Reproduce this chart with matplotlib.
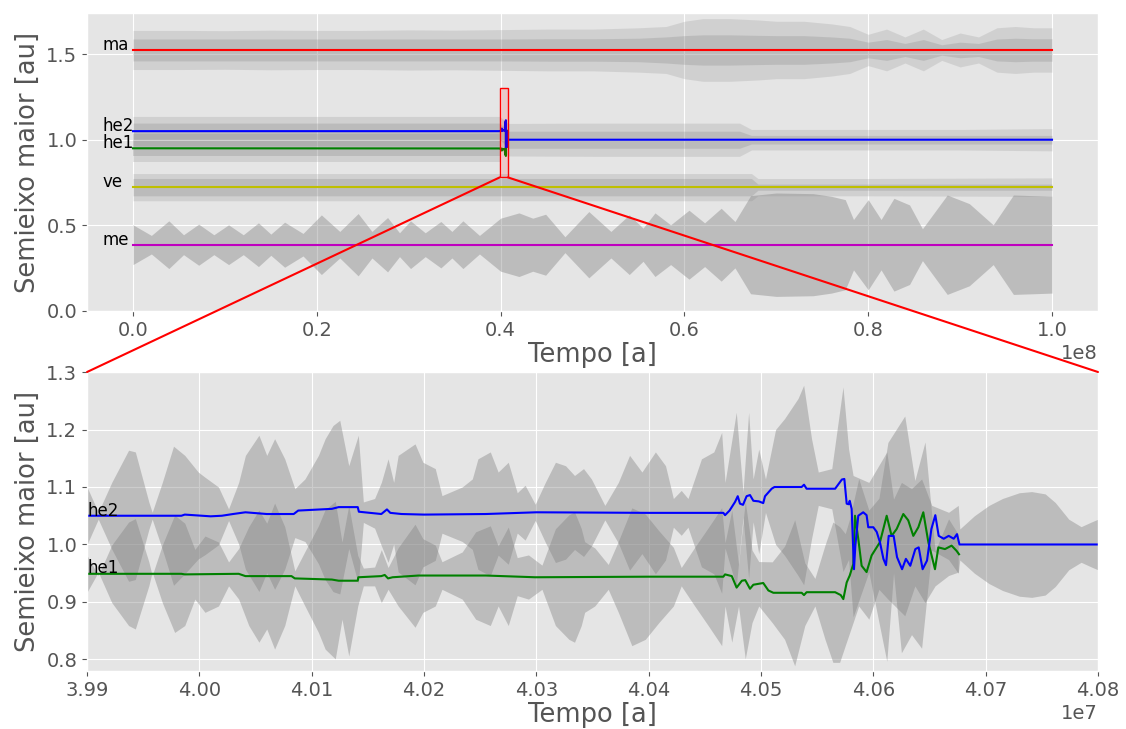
import numpy as np
import matplotlib
matplotlib.use("Agg")
import matplotlib.pyplot as plt
from matplotlib.patches import Rectangle, ConnectionPatch
from matplotlib.ticker import MultipleLocator

# ---------------- data: full run (time in units of 1e8 years) ----------------
span_t = [0.0, 1.0]

ma_a = 1.524
ma_t = [0, .05, .10, .15, .20, .25, .30, .35, .40, .45, .50, .55, .58, .60, .62, .65,
        .68, .70, .73, .76, .78, .80, .82, .84, .86, .88, .90, .92, .94, .96, .98, 1.0]
ma_eout = [.075, .075, .074, .076, .075, .075, .077, .076, .078, .080, .080, .085, .090, .110, .120, .120,
           .115, .110, .110, .100, .090, .060, .080, .050, .080, .040, .065, .050, .085, .090, .085, .085]
ma_ein = [.042, .042, .042, .042, .042, .042, .042, .042, .042, .043, .043, .045, .050, .055, .058, .058,
          .056, .055, .055, .050, .045, .030, .040, .025, .040, .020, .030, .025, .042, .045, .043, .043]

he2_env_t = [0, .10, .20, .30, .399, .408, .50, .60, .66, .673, .70, .80, .90, 1.0]
he2_env_a = [1.05, 1.05, 1.05, 1.05, 1.05, 1.0, 1.0, 1.0, 1.0, 1.0, 1.0, 1.0, 1.0, 1.0]
he2_eout = [.082, .082, .082, .082, .082, .095, .097, .097, .097, .060, .060, .060, .060, .065]
he2_ein = [.045, .045, .045, .045, .045, .050, .050, .050, .050, .025, .025, .025, .025, .025]

he1_env_t = [0, .10, .20, .30, .399]
he1_env_a = [0.95, 0.95, 0.95, 0.95, 0.95]
he1_eout = [.085, .085, .085, .085, .085]
he1_ein = [.045, .045, .045, .045, .045]

ve_a = 0.723
ve_t = [0, .20, .40, .60, .673, .68, .80, 1.0]
ve_eout = [.110, .110, .110, .110, .110, .070, .070, .075]
ve_ein = [.070, .070, .070, .070, .070, .025, .025, .025]

me_a = 0.387
me_t = [0, .020, .039, .055, .0715, .088, .104, .120, .1365, .150, .165, .185, .205, .225, .245,
        .260, .277, .290, .302, .318, .335, .347, .359, .377, .400, .420, .435, .449, .470, .496,
        .520, .540, .555, .568, .585, .605, .622, .640, .655, .672, .700, .740, .760, .775, .784,
        .800, .814, .828, .845, .859, .886, .910, .936, .958, .980, 1.0]
me_e = [0.30, 0.14, 0.36, 0.15, 0.31, 0.15, 0.30, 0.15, 0.33, 0.16, 0.34, 0.17, 0.45, 0.20, 0.47,
        0.20, 0.41, 0.18, 0.36, 0.18, 0.35, 0.20, 0.36, 0.14, 0.40, 0.48, 0.40, 0.46, 0.12, 0.50,
        0.20, 0.45, 0.25, 0.48, 0.30, 0.52, 0.33, 0.55, 0.35, 0.74, 0.78, 0.77, 0.73, 0.68, 0.38,
        0.68, 0.38, 0.70, 0.60, 0.24, 0.75, 0.62, 0.30, 0.75, 0.74, 0.73]

# ---------------- data: zoom window (time in units of 1e7 years) ----------------
he2_zt = [3.9900, 3.9984, 3.9987, 4.0010, 4.0020, 4.0030, 4.0041, 4.0060, 4.0084, 4.0088, 4.0118,
          4.0124, 4.0141, 4.0142, 4.0162, 4.0167, 4.0170, 4.0180, 4.0200, 4.0255, 4.0300, 4.0400,
          4.04665, 4.0468, 4.0472, 4.04769, 4.04793, 4.04813, 4.0484, 4.04872, 4.04902, 4.04932,
          4.0498, 4.0502, 4.05036, 4.05095, 4.0512, 4.05362, 4.05383, 4.05406, 4.0566, 4.0572,
          4.05742, 4.05763, 4.0578, 4.0579, 4.05807, 4.05828, 4.0584, 4.05866, 4.0591, 4.0594,
          4.05955, 4.0600, 4.0603, 4.06059, 4.0609, 4.06113, 4.06137, 4.06181, 4.06211, 4.06256,
          4.0629, 4.06329, 4.06374, 4.06404, 4.06439, 4.06478, 4.06517, 4.06552, 4.06582, 4.06627,
          4.06671, 4.06716, 4.06745, 4.06767, 4.0800]
he2_za = [1.050, 1.050, 1.052, 1.049, 1.050, 1.053, 1.056, 1.053, 1.053, 1.059, 1.062,
          1.065, 1.065, 1.057, 1.053, 1.061, 1.055, 1.053, 1.052, 1.053, 1.056, 1.055,
          1.055, 1.051, 1.059, 1.074, 1.084, 1.071, 1.069, 1.084, 1.086, 1.076,
          1.075, 1.072, 1.084, 1.097, 1.100, 1.100, 1.104, 1.097, 1.097, 1.113,
          1.114, 1.071, 1.070, 1.076, 1.062, 0.957, 0.998, 1.050, 1.056, 1.051,
          1.030, 1.030, 1.022, 1.004, 0.975, 0.964, 1.015, 1.015, 0.978, 0.957,
          0.975, 0.963, 0.992, 0.995, 0.957, 0.972, 1.027, 1.051, 1.015, 1.010,
          1.015, 1.010, 1.018, 1.000, 1.000]

he1_zt = [3.9900, 3.9984, 3.9987, 4.0035, 4.0041, 4.0082, 4.0085, 4.0118, 4.0124, 4.0141, 4.01415,
          4.0162, 4.0165, 4.0168, 4.0172, 4.0195, 4.0255, 4.0299, 4.0400, 4.04665, 4.0468, 4.0474,
          4.04783, 4.0483, 4.0486, 4.04902, 4.04932, 4.0502, 4.05066, 4.0511, 4.05362, 4.05383,
          4.05406, 4.0566, 4.0571, 4.05733, 4.05763, 4.0579, 4.05822, 4.05837, 4.05866, 4.05896,
          4.0594, 4.05985, 4.06059, 4.06119, 4.06163, 4.06208, 4.06267, 4.06311, 4.06356, 4.06401,
          4.06445, 4.0649, 4.06549, 4.06579, 4.06638, 4.06697, 4.06741, 4.06763]
he1_za = [0.949, 0.949, 0.948, 0.949, 0.945, 0.945, 0.941, 0.939, 0.937, 0.937, 0.943,
          0.945, 0.947, 0.941, 0.943, 0.946, 0.946, 0.943, 0.944, 0.944, 0.948, 0.945,
          0.925, 0.937, 0.938, 0.923, 0.930, 0.933, 0.920, 0.916, 0.916, 0.912,
          0.917, 0.917, 0.912, 0.905, 0.934, 0.946, 0.966, 1.050, 1.010, 0.963,
          0.952, 0.981, 1.004, 1.050, 1.015, 1.027, 1.053, 1.042, 1.015, 1.030,
          1.056, 1.004, 0.957, 0.995, 0.992, 0.998, 0.989, 0.983]

# outer edge of the grey region (he2 aphelion)
band_hi_t = [3.9900, 3.9910, 3.9922, 3.9937, 3.9943, 3.9955, 3.9958, 3.9967, 3.9977, 3.9987, 3.9999,
             4.0005, 4.0017, 4.0026, 4.0035, 4.0041, 4.0053, 4.0060, 4.0067, 4.0076, 4.0085, 4.0094,
             4.0106, 4.0112, 4.0119, 4.0125, 4.0133, 4.01415, 4.0146, 4.0156, 4.0162, 4.0168, 4.0173,
             4.0177, 4.0192, 4.0199, 4.0210, 4.0216, 4.0234, 4.0243, 4.0248, 4.0259, 4.0266, 4.0275,
             4.0283, 4.0290, 4.0299, 4.0308, 4.0317, 4.0326, 4.0334, 4.0342, 4.0349, 4.0361, 4.0373,
             4.0383, 4.0394, 4.0406, 4.0415, 4.0422, 4.0429, 4.0435, 4.0447, 4.0458, 4.0465, 4.0468,
             4.0478, 4.0484, 4.0489, 4.0493, 4.0498, 4.0504, 4.0513, 4.0521, 4.0533, 4.0538, 4.0545,
             4.0551, 4.0563, 4.0573, 4.0578, 4.0582, 4.0596, 4.0612, 4.0618, 4.0625, 4.0634, 4.0643,
             4.0652, 4.0667, 4.06756, 4.0677, 4.0690, 4.0703, 4.0715, 4.0730, 4.0741, 4.0753, 4.0762,
             4.0774, 4.0785, 4.0794, 4.0800]
band_hi = [1.100, 1.056, 1.108, 1.164, 1.161, 1.074, 1.056, 1.108, 1.171, 1.155, 1.126,
           1.117, 1.100, 1.062, 1.108, 1.155, 1.190, 1.155, 1.184, 1.149, 1.097, 1.114,
           1.155, 1.184, 1.207, 1.216, 1.137, 1.190, 1.074, 1.080, 1.108, 1.149, 1.108,
           1.155, 1.175, 1.143, 1.132, 1.085, 1.100, 1.114, 1.149, 1.161, 1.126, 1.143,
           1.090, 1.103, 1.070, 1.108, 1.143, 1.137, 1.120, 1.132, 1.114, 1.068, 1.108,
           1.155, 1.126, 1.161, 1.137, 1.080, 1.094, 1.080, 1.149, 1.161, 1.195, 1.108,
           1.230, 1.091, 1.230, 1.114, 1.166, 1.114, 1.200, 1.219, 1.254, 1.277, 1.184,
           1.126, 1.132, 1.274, 1.166, 1.120, 1.108, 1.161, 1.079, 1.108, 1.097, 1.114,
           1.068, 1.056, 1.068, 1.027, 1.050, 1.068, 1.080, 1.090, 1.092, 1.088, 1.073,
           1.044, 1.031, 1.039, 1.044]

# inner edge of the grey region (he1 perihelion)
band_lo_t = [3.9900, 3.9910, 3.9922, 3.9937, 3.9943, 3.9955, 3.9958, 3.9967, 3.9978, 3.9987, 3.9996,
             4.0005, 4.0017, 4.0026, 4.0035, 4.0044, 4.0053, 4.0060, 4.0067, 4.0076, 4.0085, 4.0094,
             4.0106, 4.0112, 4.0121, 4.0127, 4.0133, 4.0141, 4.0146, 4.0156, 4.0162, 4.0168, 4.0177,
             4.0192, 4.0199, 4.0210, 4.0216, 4.0234, 4.0246, 4.0259, 4.0266, 4.0275, 4.0283, 4.0293,
             4.0305, 4.0317, 4.0329, 4.0334, 4.0340, 4.0343, 4.0352, 4.0364, 4.0373, 4.0385, 4.0397,
             4.0409, 4.0422, 4.0429, 4.0441, 4.0453, 4.0465, 4.0468, 4.0474, 4.0480, 4.0486, 4.0492,
             4.0498, 4.0510, 4.0521, 4.0530, 4.0539, 4.0548, 4.0557, 4.0564, 4.0570, 4.0575, 4.0579,
             4.0587, 4.0596, 4.0605, 4.0613, 4.0628, 4.0637, 4.0646, 4.0655, 4.0667, 4.06756]
band_lo = [0.917, 0.952, 0.899, 0.859, 0.853, 0.928, 0.952, 0.899, 0.847, 0.859, 0.905,
           0.882, 0.893, 0.928, 0.905, 0.859, 0.830, 0.853, 0.818, 0.859, 0.928, 0.893,
           0.847, 0.818, 0.801, 0.870, 0.806, 0.893, 0.928, 0.928, 0.899, 0.922, 0.893,
           0.856, 0.882, 0.893, 0.922, 0.905, 0.870, 0.859, 0.893, 0.859, 0.911, 0.905,
           0.922, 0.859, 0.835, 0.830, 0.859, 0.882, 0.893, 0.922, 0.882, 0.824, 0.835,
           0.864, 0.893, 0.928, 0.893, 0.859, 0.824, 0.893, 0.830, 0.893, 0.801, 0.864,
           0.893, 0.864, 0.835, 0.789, 0.859, 0.893, 0.835, 0.795, 0.795, 0.824, 0.847,
           0.893, 0.870, 0.922, 0.905, 0.876, 0.928, 0.899, 0.928, 0.946, 0.952]

names = ["ma", "he2", "he1", "ve", "me"]
label_y = [1.524, 1.05, 0.95, 0.723, 0.387]
zoom_box = [3.99, 4.08, 0.78, 1.30]   # x0, x1 (1e7 yr), y0, y1 (au)

# ---------------- figure ----------------
plt.style.use("ggplot")
fig = plt.figure(figsize=(11.26, 7.29), dpi=100)
ax1 = fig.add_axes([0.0773, 0.5734, 0.8978, 0.4088])
ax2 = fig.add_axes([0.0773, 0.0796, 0.8978, 0.4101])

GREY = "gray"

def band(ax, t, a, e, alpha):
    t = np.asarray(t) * 1e8
    a = np.asarray(a, dtype=float)
    e = np.asarray(e, dtype=float)
    ax.fill_between(t, a * (1 - e), a * (1 + e), color=GREY, alpha=alpha, lw=0)

# top panel bands
band(ax1, ma_t, np.full(len(ma_t), ma_a), ma_eout, 0.2)
band(ax1, ma_t, np.full(len(ma_t), ma_a), ma_ein, 0.25)
band(ax1, he2_env_t, he2_env_a, he2_eout, 0.2)
band(ax1, he2_env_t, he2_env_a, he2_ein, 0.25)
band(ax1, he1_env_t, he1_env_a, he1_eout, 0.2)
band(ax1, he1_env_t, he1_env_a, he1_ein, 0.25)
band(ax1, ve_t, np.full(len(ve_t), ve_a), ve_eout, 0.2)
band(ax1, ve_t, np.full(len(ve_t), ve_a), ve_ein, 0.25)
band(ax1, me_t, np.full(len(me_t), me_a), me_e, 0.4)

# top panel lines
span = np.asarray(span_t) * 1e8
he2_t_full = np.concatenate([[0.0], np.asarray(he2_zt) * 1e7, [1e8]])
he2_a_full = np.concatenate([[1.05], he2_za, [1.0]])
he1_t_full = np.concatenate([[0.0], np.asarray(he1_zt) * 1e7])
he1_a_full = np.concatenate([[0.95], he1_za])
ax1.plot(span, [ma_a, ma_a], color="r", lw=1.5)
ax1.plot(he1_t_full, he1_a_full, color="g", lw=1.5)
ax1.plot(he2_t_full, he2_a_full, color="b", lw=1.5)
ax1.plot(span, [ve_a, ve_a], color="y", lw=1.5)
ax1.plot(span, [me_a, me_a], color="m", lw=1.5)
for n, y in zip(names, label_y):
    ax1.text(-0.033e8, y, n, fontsize=12, color="black", ha="left", va="baseline")

x0, x1, y0, y1 = zoom_box
ax1.add_patch(Rectangle((x0 * 1e7, y0), (x1 - x0) * 1e7, y1 - y0,
                        facecolor=(1, 0, 0, 0.12), edgecolor="red", lw=1, zorder=5))

ax1.set_xlim(-0.05e8, 1.05e8)
ax1.set_ylim(0, 1.74)
ax1.xaxis.set_major_locator(MultipleLocator(0.2e8))
ax1.yaxis.set_major_locator(MultipleLocator(0.5))

# bottom panel bands (q = 2a - Q from the read aphelion/perihelion edges)
zt2 = np.asarray(he2_zt) * 1e7
zt1 = np.asarray(he1_zt) * 1e7
thi = np.asarray(band_hi_t) * 1e7
tlo = np.asarray(band_lo_t) * 1e7
Q2 = np.asarray(band_hi)
q2 = 2 * np.interp(thi, zt2, he2_za) - Q2
q1 = np.asarray(band_lo)
Q1 = 2 * np.interp(tlo, zt1, he1_za) - q1
ax2.fill_between(thi, q2, Q2, color=GREY, alpha=0.4, lw=0)
ax2.fill_between(tlo, q1, Q1, color=GREY, alpha=0.4, lw=0)
ax2.plot(zt1, he1_za, color="g", lw=1.5)
ax2.plot(zt2, he2_za, color="b", lw=1.5)
ax2.text(x0 * 1e7, label_y[1], names[1], fontsize=12, color="black", ha="left", va="baseline")
ax2.text(x0 * 1e7, label_y[2], names[2], fontsize=12, color="black", ha="left", va="baseline")
ax2.set_xlim(x0 * 1e7, x1 * 1e7)
ax2.set_ylim(y0, y1)
ax2.xaxis.set_major_locator(MultipleLocator(1e5))
ax2.yaxis.set_major_locator(MultipleLocator(0.1))
ax2.ticklabel_format(axis="x", style="sci", scilimits=(0, 0), useOffset=False)

for ax in (ax1, ax2):
    ax.set_xlabel("Tempo [a]", fontsize=18.5, color="#555555", labelpad=2)
    ax.set_ylabel("Semieixo maior [au]", fontsize=18.5, color="#555555")
    ax.tick_params(labelsize=14, colors="#555555")
    ax.xaxis.get_offset_text().set_fontsize(14)
    ax.xaxis.get_offset_text().set_color("#555555")

for xx in (x0, x1):
    con = ConnectionPatch(xyA=(xx * 1e7, y0), coordsA=ax1.transData,
                          xyB=(xx * 1e7, y1), coordsB=ax2.transData,
                          color="red", lw=1.5, zorder=10)
    fig.add_artist(con)

fig.savefig("out.png", dpi=100)
